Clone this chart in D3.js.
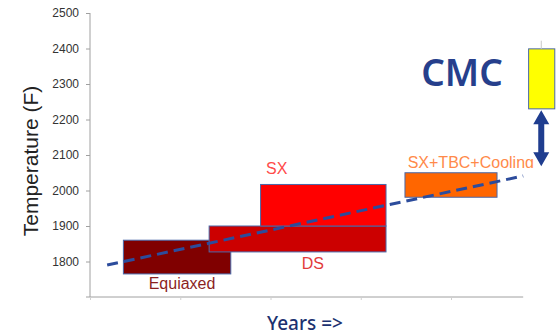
<!DOCTYPE html>
<html>
<head>
<meta charset="utf-8">
<script src="https://cdn.jsdelivr.net/npm/d3@7/dist/d3.min.js"></script>
<style>
  body { margin: 0; background: #fff; }
  svg { display: block; }
</style>
</head>
<body>
<div id="chart"></div>
<script>
// temperature ticks
const yTicks = [1800, 1900, 2000, 2100, 2200, 2300, 2400, 2500];
const xTicks = [0, 1, 2, 3, 4];

// boxes: years start/end, temperature low/high
const alloys = ["Equiaxed", "DS", "SX", "SX+TBC+Cooling", "CMC"];
const yearStart = [0.37, 1.32, 1.89, 3.49, 4.86];
const yearEnd = [1.56, 3.28, 3.28, 4.51, 5.15];
const tempLow = [1765, 1827, 1900, 1981, 2230];
const tempHigh = [1860, 1900, 2017, 2050, 2399];
const fills = ["#800000", "#cc0000", "#ff0000", "#ff6600", "#ffff00"];

// label anchors (year, temp) for each alloy text
const labelYear = [1.02, 2.47, 1.95, 3.52];
const labelTemp = [1723, 1778, 2047, 2064];
const labelColors = ["#8b1f1f", "#e23b3b", "#ff4a4a", "#ff8a4a"];

// dashed trend
const trendYears = [0.19, 4.8];
const trendTemps = [1790, 2041];

// CMC gap arrow
const arrowYear = 5.0;
const arrowTemps = [2226, 2068];

const width = 560, height = 336;

const svg = d3.select("#chart").append("svg")
  .attr("width", width)
  .attr("height", height);

const x = d3.scaleLinear().domain([0, 4.8]).range([90, 523.2]);
const y = d3.scaleLinear().domain([1700, 2500]).range([297, 13]);

// y axis
const yAxis = svg.append("g")
  .attr("transform", `translate(${x(0)},0)`)
  .call(d3.axisLeft(y).tickValues(yTicks).tickFormat(d3.format("d"))
    .tickSize(4).tickPadding(7).tickSizeOuter(0));
yAxis.select(".domain").attr("stroke", "#a0a0a0").attr("d", `M0,${y(2500)}V${y(1700)}`);
yAxis.selectAll(".tick line").attr("stroke", "#a0a0a0");
yAxis.selectAll("text")
  .attr("font-family", "Liberation Sans, Arial, sans-serif")
  .attr("font-size", 12)
  .attr("fill", "#333");

// x axis
const xAxis = svg.append("g")
  .attr("transform", `translate(0,${y(1700)})`)
  .call(d3.axisBottom(x).tickValues(xTicks).tickSize(3).tickFormat("").tickSizeOuter(0));
xAxis.select(".domain").attr("stroke", "#a0a0a0").attr("d", `M${x(0) - 4},0H${x(4.8)}`);
xAxis.selectAll(".tick line").attr("stroke", "#d0d0d0");

// boxes
svg.append("g").selectAll("rect")
  .data(alloys)
  .join("rect")
  .attr("x", (d, i) => x(yearStart[i]))
  .attr("y", (d, i) => y(tempHigh[i]))
  .attr("width", (d, i) => x(yearEnd[i]) - x(yearStart[i]))
  .attr("height", (d, i) => y(tempLow[i]) - y(tempHigh[i]))
  .attr("fill", (d, i) => fills[i])
  .attr("stroke", "#4a68a8")
  .attr("stroke-width", 1);

// small whisker above CMC box
svg.append("line")
  .attr("x1", x(arrowYear)).attr("x2", x(arrowYear))
  .attr("y1", y(2422)).attr("y2", y(2399))
  .attr("stroke", "#c8c8c8");

// trend line
svg.append("line")
  .attr("x1", x(trendYears[0])).attr("y1", y(trendTemps[0]))
  .attr("x2", x(trendYears[1])).attr("y2", y(trendTemps[1]))
  .attr("stroke", "#2c4c9c")
  .attr("stroke-width", 3)
  .attr("stroke-dasharray", "11 6");

// labels
svg.append("clipPath").attr("id", "clipLabel")
  .append("rect").attr("x", 0).attr("y", 0).attr("width", 534).attr("height", 168);

svg.append("g").selectAll("text")
  .data(alloys.slice(0, 4))
  .join("text")
  .attr("x", (d, i) => x(labelYear[i]))
  .attr("y", (d, i) => y(labelTemp[i]))
  .attr("text-anchor", (d, i) => i === 0 || i === 1 ? "middle" : "start")
  .attr("clip-path", (d, i) => i === 3 ? "url(#clipLabel)" : null)
  .attr("font-family", "Liberation Sans, Arial, sans-serif")
  .attr("font-size", 16)
  .attr("fill", (d, i) => labelColors[i])
  .text(d => d);

// CMC label
svg.append("text")
  .attr("x", 462)
  .attr("y", 86)
  .attr("text-anchor", "middle")
  .attr("font-family", "Noto Sans, sans-serif")
  .attr("font-weight", 600)
  .attr("font-size", 37)
  .attr("fill", "#263f8c")
  .text("CMC");

// double arrow
const ax = x(arrowYear), ay1 = y(arrowTemps[0]), ay2 = y(arrowTemps[1]);
const hw = 8, hl = 14, sw = 3;
svg.append("path")
  .attr("d", `M${ax},${ay1} L${ax + hw},${ay1 + hl} L${ax + sw},${ay1 + hl} L${ax + sw},${ay2 - hl}
    L${ax + hw},${ay2 - hl} L${ax},${ay2} L${ax - hw},${ay2 - hl} L${ax - sw},${ay2 - hl}
    L${ax - sw},${ay1 + hl} L${ax - hw},${ay1 + hl} Z`)
  .attr("fill", "#1f3d8f");

// axis titles
svg.append("text")
  .attr("transform", `translate(38,161) rotate(-90)`)
  .attr("text-anchor", "middle")
  .attr("font-family", "Liberation Sans, Arial, sans-serif")
  .attr("font-size", 21)
  .attr("fill", "#222")
  .text("Temperature (F)");

svg.append("text")
  .attr("x", 305)
  .attr("y", 330)
  .attr("text-anchor", "middle")
  .attr("font-family", "Noto Sans, sans-serif")
  .attr("font-weight", 500)
  .attr("font-size", 19)
  .attr("fill", "#1c3170")
  .text("Years =>");
</script>
</body>
</html>
